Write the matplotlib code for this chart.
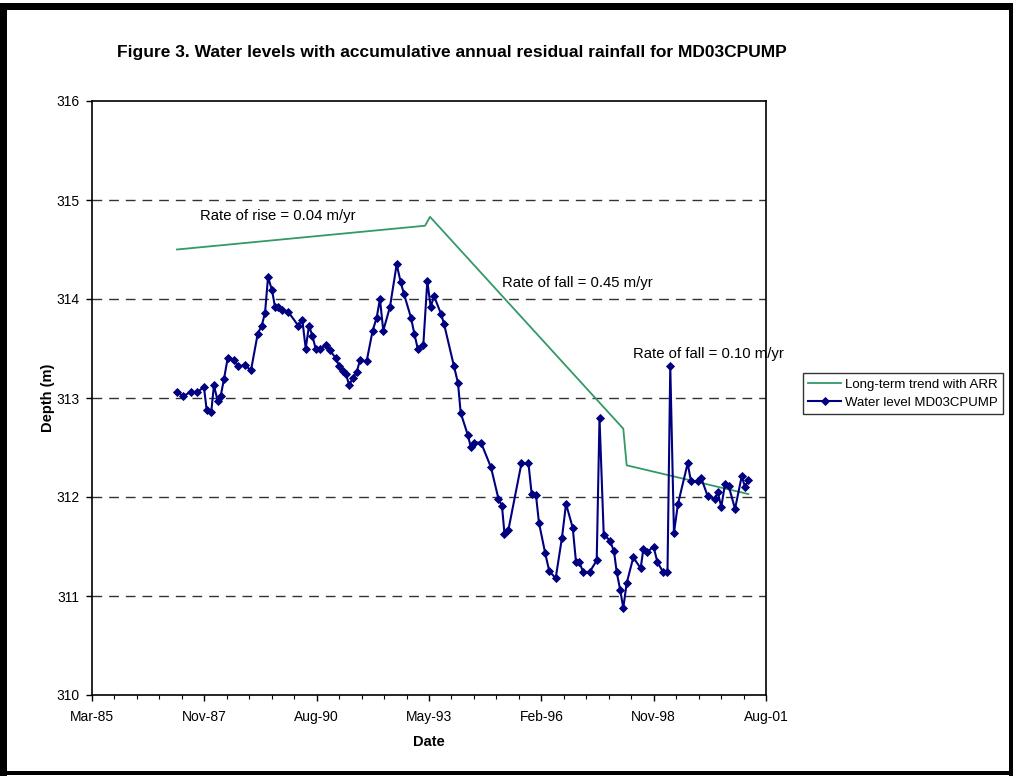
import datetime as dt
import matplotlib
matplotlib.use("Agg")
import matplotlib.pyplot as plt
import matplotlib.dates as mdates
from matplotlib.patches import Rectangle

plt.rcParams['font.family'] = ['Liberation Sans', 'DejaVu Sans']

# ---------------- data ----------------
wl_years = [1987.241, 1987.387, 1987.568, 1987.728, 1987.892, 1987.958, 1988.070, 1988.135,
            1988.226, 1988.299, 1988.379, 1988.469, 1988.630, 1988.720, 1988.891, 1989.037,
            1989.201, 1989.298, 1989.379, 1989.452, 1989.549, 1989.622, 1989.703, 1989.793,
            1989.946, 1990.190, 1990.288, 1990.371, 1990.451, 1990.531, 1990.614, 1990.719,
            1990.858, 1990.963, 1991.109, 1991.189, 1991.272, 1991.353, 1991.433, 1991.516,
            1991.613, 1991.694, 1991.857, 1992.003, 1992.101, 1992.181, 1992.262, 1992.425,
            1992.588, 1992.686, 1992.766, 1992.937, 1993.017, 1993.100, 1993.237, 1993.334,
            1993.417, 1993.498, 1993.668, 1993.741, 1993.985, 1994.083, 1994.148, 1994.319,
            1994.392, 1994.480, 1994.643, 1994.887, 1995.070, 1995.155, 1995.216, 1995.313,
            1995.630, 1995.801, 1995.879, 1995.984, 1996.057, 1996.210, 1996.308, 1996.464,
            1996.617, 1996.715, 1996.878, 1996.959, 1997.039, 1997.136, 1997.288, 1997.463,
            1997.531, 1997.634, 1997.787, 1997.885, 1997.951, 1998.036, 1998.111, 1998.194,
            1998.355, 1998.535, 1998.599, 1998.689, 1998.848, 1998.945, 1999.086, 1999.189,
            1999.257, 1999.347, 1999.445, 1999.681, 1999.761, 1999.939, 2000.013, 2000.168,
            2000.346, 2000.412, 2000.500, 2000.590, 2000.680, 2000.834, 2000.997, 2001.078,
            2001.158]
wl_depth = [313.06, 313.02, 313.06, 313.06, 313.11, 312.88, 312.86, 313.13,
            312.97, 313.02, 313.19, 313.40, 313.38, 313.32, 313.33, 313.28,
            313.65, 313.73, 313.86, 314.22, 314.09, 313.92, 313.92, 313.89,
            313.87, 313.73, 313.79, 313.50, 313.73, 313.63, 313.50, 313.49,
            313.54, 313.48, 313.40, 313.32, 313.27, 313.24, 313.13, 313.20,
            313.26, 313.38, 313.37, 313.68, 313.81, 314.00, 313.68, 313.92,
            314.35, 314.17, 314.05, 313.81, 313.65, 313.50, 313.54, 314.18,
            313.92, 314.03, 313.85, 313.75, 313.32, 313.15, 312.85, 312.63,
            312.51, 312.55, 312.55, 312.30, 311.98, 311.91, 311.63, 311.67,
            312.34, 312.34, 312.03, 312.02, 311.74, 311.43, 311.25, 311.18,
            311.59, 311.93, 311.69, 311.34, 311.34, 311.24, 311.24, 311.36,
            312.80, 311.62, 311.56, 311.45, 311.24, 311.06, 310.88, 311.13,
            311.39, 311.28, 311.47, 311.44, 311.50, 311.34, 311.24, 311.24,
            313.32, 311.64, 311.93, 312.34, 312.16, 312.16, 312.19, 312.01,
            311.98, 312.05, 311.90, 312.13, 312.11, 311.88, 312.21, 312.10,
            312.17]

trend_years = [1987.234, 1993.278, 1993.400, 1998.111, 1998.194, 2001.158]
trend_depth = [314.50, 314.74, 314.83, 312.69, 312.32, 312.03]

y_ticks = [310, 311, 312, 313, 314, 315, 316]
title = "Figure 3. Water levels with accumulative annual residual rainfall for MD03CPUMP"
annotations = ["Rate of rise = 0.04 m/yr", "Rate of fall = 0.45 m/yr", "Rate of fall = 0.10 m/yr"]
legend_labels = ["Long-term trend with ARR", "Water level MD03CPUMP"]


def to_date(y):
    yr = int(y)
    start = dt.datetime(yr, 1, 1)
    end = dt.datetime(yr + 1, 1, 1)
    return start + (end - start) * (y - yr)


wl_dates = [to_date(v) for v in wl_years]
trend_dates = [to_date(v) for v in trend_years]

# ---------------- figure ----------------
W, H = 1013, 776
fig = plt.figure(figsize=(W / 100, H / 100), dpi=100)
fig.patch.set_facecolor('white')


def frect(x0, y0, x1, y1):
    fig.patches.append(Rectangle((x0 / W, 1 - y1 / H), (x1 - x0) / W, (y1 - y0) / H,
                                 transform=fig.transFigure, facecolor='black',
                                 edgecolor='none', zorder=10))


frect(0, 3, W, 10)      # top
frect(0, 3, 7, H)       # left
frect(0, 771, W, 775)   # bottom
frect(1009, 3, W, H)    # right

ax_l, ax_r, ax_t, ax_b = 92, 766, 101, 695
ax = fig.add_axes([ax_l / W, 1 - ax_b / H, (ax_r - ax_l) / W, (ax_b - ax_t) / H])

line_trend, = ax.plot(trend_dates, trend_depth, color='#339966', lw=1.3, zorder=3)
line_wl, = ax.plot(wl_dates, wl_depth, color='#000080', lw=1.5, marker='D',
                   markersize=4.2, markeredgewidth=0.6, zorder=4)

x0 = dt.datetime(1985, 3, 1)
ax.set_xlim(x0, x0 + dt.timedelta(days=6000))
ax.set_ylim(310, 316)
ax.set_xticks([x0 + dt.timedelta(days=1000 * k) for k in range(7)])
ax.set_xticks([x0 + dt.timedelta(days=200 * k) for k in range(31)], minor=True)
ax.xaxis.set_major_formatter(mdates.DateFormatter('%b-%y'))
ax.set_yticks(y_ticks)

for v in y_ticks[1:-1]:
    ax.axhline(v, color='#333333', lw=1.0, ls=(0, (7, 5)), zorder=1)

ax.tick_params(axis='both', which='major', direction='out', length=4, width=1,
               labelsize=10, colors='black')
ax.tick_params(axis='x', which='minor', direction='out', length=3, width=0.8)
ax.tick_params(axis='x', pad=7)
ax.tick_params(axis='y', pad=5)
for s in ax.spines.values():
    s.set_linewidth(1.2)
    s.set_color('black')

ax.set_xlabel('Date', fontsize=10.5, fontweight='bold', labelpad=8)
ax.set_ylabel('Depth (m)', fontsize=10.5, fontweight='bold', labelpad=1)

fig.text(117 / W, 1 - 52 / H, title, fontsize=12.5, fontweight='bold', ha='left', va='center')

ann_pos = [(200, 216), (502, 283), (633, 354)]
for (px, py), txt in zip(ann_pos, annotations):
    ax.text((px - ax_l) / (ax_r - ax_l), 1 - (py - ax_t) / (ax_b - ax_t), txt,
            transform=ax.transAxes, fontsize=10.7, ha='left', va='center', clip_on=False,
            zorder=5)

leg = fig.legend([line_trend, line_wl], legend_labels, loc='upper left',
                 bbox_to_anchor=(803 / W, 1 - 373 / H), fontsize=9.5, frameon=True,
                 fancybox=False, edgecolor='black', borderpad=0.4, handlelength=2.5,
                 labelspacing=0.45, handletextpad=0.3, borderaxespad=0)
leg.get_frame().set_linewidth(1.0)

fig.savefig('out.png', dpi=100, facecolor='white')
